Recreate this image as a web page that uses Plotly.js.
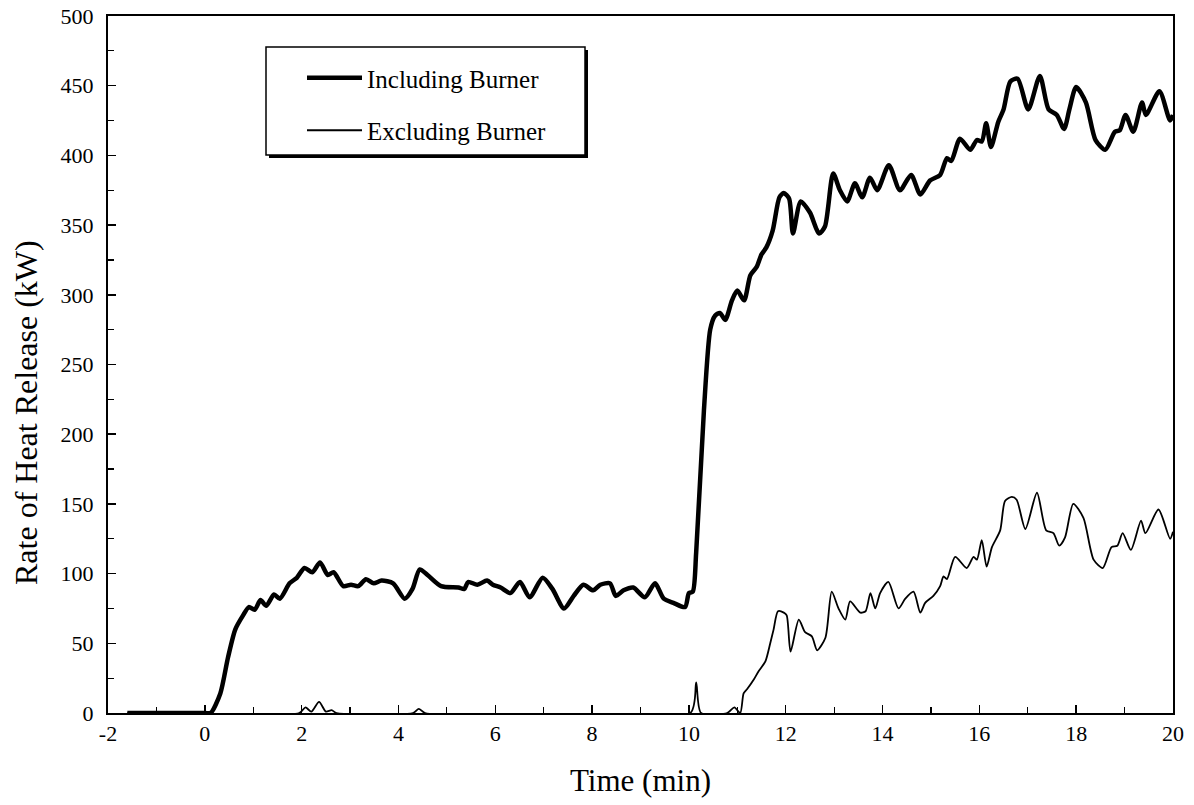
<!DOCTYPE html>
<html>
<head>
<meta charset="utf-8">
<script src="https://cdn.plot.ly/plotly-3.0.1.min.js"></script>
<style>
html,body{margin:0;padding:0;background:#fff;}
#chart{width:1194px;height:805px;}
</style>
</head>
<body>
<div id="chart"></div>
<script>
// Time (min) and heat release rate (kW)
const timeIncluding = [-1.6, 0.0, 0.12, 0.32, 0.48, 0.63, 0.79, 0.91, 1.03, 1.15, 1.27, 1.43, 1.55, 1.75, 1.9, 2.06, 2.22, 2.38, 2.54, 2.66, 2.86, 3.02, 3.17, 3.33, 3.49, 3.65, 3.89, 4.13, 4.29, 4.44, 4.6, 4.88, 5.24, 5.36, 5.44, 5.63, 5.83, 5.95, 6.11, 6.31, 6.51, 6.71, 6.98, 7.18, 7.42, 7.62, 7.82, 8.02, 8.17, 8.37, 8.49, 8.65, 8.85, 9.09, 9.3, 9.48, 9.68, 9.92, 10.0, 10.08, 10.15, 10.31, 10.44, 10.54, 10.64, 10.75, 10.89, 11.0, 11.14, 11.27, 11.4, 11.5, 11.6, 11.73, 11.87, 11.96, 12.07, 12.15, 12.31, 12.5, 12.69, 12.81, 12.98, 13.12, 13.27, 13.43, 13.58, 13.74, 13.89, 14.13, 14.36, 14.59, 14.78, 14.98, 15.19, 15.33, 15.42, 15.6, 15.81, 15.95, 16.05, 16.14, 16.24, 16.39, 16.5, 16.64, 16.79, 17.01, 17.25, 17.43, 17.6, 17.75, 17.86, 18.0, 18.2, 18.4, 18.6, 18.8, 18.9, 19.02, 19.18, 19.36, 19.44, 19.72, 19.94, 20.0];
const heatIncluding = [0, 0, 0, 14, 40, 60, 70, 76, 74, 81, 77, 85, 82, 93, 97, 104, 101, 108, 99, 101, 91, 92, 91, 96, 93, 95, 93, 82, 89, 103, 99, 91, 90, 89, 94, 92, 95, 92, 90, 86, 94, 83, 97, 89, 75, 84, 92, 88, 92, 93, 84, 88, 90, 83, 93, 82, 79, 76, 86, 87, 115, 217, 275, 285, 287, 282, 296, 303, 296, 314, 320, 329, 334, 346, 370, 373, 369, 344, 367, 359, 344, 349, 387, 375, 367, 380, 370, 384, 375, 393, 375, 386, 372, 382, 386, 398, 396, 412, 404, 411, 410, 423, 406, 424, 433, 453, 455, 433, 457, 433, 429, 419, 433, 449, 438, 411, 404, 417, 418, 429, 417, 438, 429, 446, 425, 429];

const timeExcluding = [-1.6, 1.95, 2.08, 2.2, 2.36, 2.5, 2.62, 2.72, 4.3, 4.42, 4.55, 10.03, 10.15, 10.25, 10.79, 10.94, 11.06, 11.13, 11.2, 11.34, 11.44, 11.58, 11.68, 11.75, 11.84, 11.96, 12.02, 12.1, 12.27, 12.4, 12.54, 12.65, 12.82, 12.95, 13.09, 13.23, 13.33, 13.54, 13.65, 13.75, 13.85, 13.95, 14.12, 14.33, 14.47, 14.64, 14.78, 14.88, 15.05, 15.19, 15.26, 15.33, 15.5, 15.74, 15.88, 15.95, 16.05, 16.15, 16.26, 16.43, 16.53, 16.67, 16.77, 16.95, 17.19, 17.38, 17.53, 17.65, 17.77, 17.94, 18.15, 18.36, 18.55, 18.73, 18.85, 18.96, 19.13, 19.34, 19.43, 19.7, 19.94, 20.0];
const heatExcluding = [0, 0, 4, 1, 8, 1, 2, 0, 0, 3, 0, 0, 22, 0, 0, 4, 0, 14, 17, 24, 30, 37, 50, 60, 73, 72, 70, 44, 67, 58, 55, 45, 54, 87, 75, 67, 80, 72, 73, 86, 75, 86, 94, 75, 82, 87, 72, 79, 84, 91, 98, 96, 112, 104, 112, 110, 124, 105, 119, 131, 152, 155, 153, 132, 158, 131, 129, 120, 126, 150, 140, 110, 104, 119, 120, 129, 117, 138, 129, 146, 125, 130];

const seriesNames = ['Including Burner', 'Excluding Burner'];
const xTickValues = [-2, 0, 2, 4, 6, 8, 10, 12, 14, 16, 18, 20];
const xTickLabels = ['-2', '0', '2', '4', '6', '8', '10', '12', '14', '16', '18', '20'];
const xTitle = 'Time (min)';
const yTitle = 'Rate of Heat Release (kW)';

const serif = '"Liberation Serif", "Times New Roman", serif';

const traces = [
  {
    x: timeIncluding, y: heatIncluding, name: seriesNames[0], mode: 'lines',
    line: {color: '#000', width: 4.5, shape: 'spline', smoothing: 0.7},
    legendgroup: 'a'
  },
  {
    x: timeExcluding, y: heatExcluding, name: seriesNames[1], mode: 'lines',
    line: {color: '#000', width: 1.8, shape: 'spline', smoothing: 0.7},
    legendgroup: 'b'
  }
];

// legend frame (pixel-based layout positions converted to paper units)
const L = 108, R = 1173, T = 16, B = 713;
const px = v => (v - L) / (R - L);
const py = v => (B - v) / (B - T);

const layout = {
  width: 1194, height: 805,
  margin: {l: L, r: 1194 - R, t: T, b: 805 - B},
  paper_bgcolor: '#fff', plot_bgcolor: '#fff',
  font: {family: serif, color: '#000', size: 22},
  showlegend: true,
  legend: {
    x: px(302), y: py(55), xanchor: 'left', yanchor: 'top',
    bgcolor: 'rgba(0,0,0,0)', borderwidth: 0,
    font: {family: serif, size: 25, color: '#000'},
    traceorder: 'grouped', tracegroupgap: 17, itemwidth: 55
  },
  shapes: [
    {type: 'rect', xref: 'paper', yref: 'paper', layer: 'above',
     x0: px(269), x1: px(588), y0: py(158), y1: py(50),
     fillcolor: '#000', line: {width: 0}},
    {type: 'rect', xref: 'paper', yref: 'paper', layer: 'above',
     x0: px(266), x1: px(585), y0: py(155), y1: py(47),
     fillcolor: '#fff', line: {color: '#000', width: 1.5}}
  ],
  annotations: [
    {text: yTitle, xref: 'paper', yref: 'paper', x: px(26), y: py(413),
     xanchor: 'center', yanchor: 'middle', textangle: -90, showarrow: false,
     font: {family: serif, size: 32, color: '#000'}}
  ],
  xaxis: {
    range: [-2, 20], tickmode: 'array', tickvals: xTickValues, ticktext: xTickLabels,
    ticks: 'inside', ticklen: 8, tickwidth: 1.5, tickcolor: '#000',
    minor: {ticks: 'inside', dtick: 1, tick0: 0, ticklen: 6, tickwidth: 1.2, tickcolor: '#000'},
    showline: true, linecolor: '#000', linewidth: 2, mirror: true,
    showgrid: false, zeroline: false,
    tickfont: {family: serif, size: 22},
    title: {text: xTitle, font: {family: serif, size: 31}, standoff: 24}
  },
  yaxis: {
    range: [0, 500], dtick: 50,
    ticks: 'inside', ticklen: 8, tickwidth: 1.5, tickcolor: '#000',
    minor: {ticks: 'inside', dtick: 25, ticklen: 6, tickwidth: 1.2, tickcolor: '#000'},
    showline: true, linecolor: '#000', linewidth: 2, mirror: true,
    showgrid: false, zeroline: false,
    tickfont: {family: serif, size: 22},
    ticklabelstandoff: 8
  }
};

Plotly.newPlot('chart', traces, layout, {staticPlot: true, displayModeBar: false});
</script>
</body>
</html>
